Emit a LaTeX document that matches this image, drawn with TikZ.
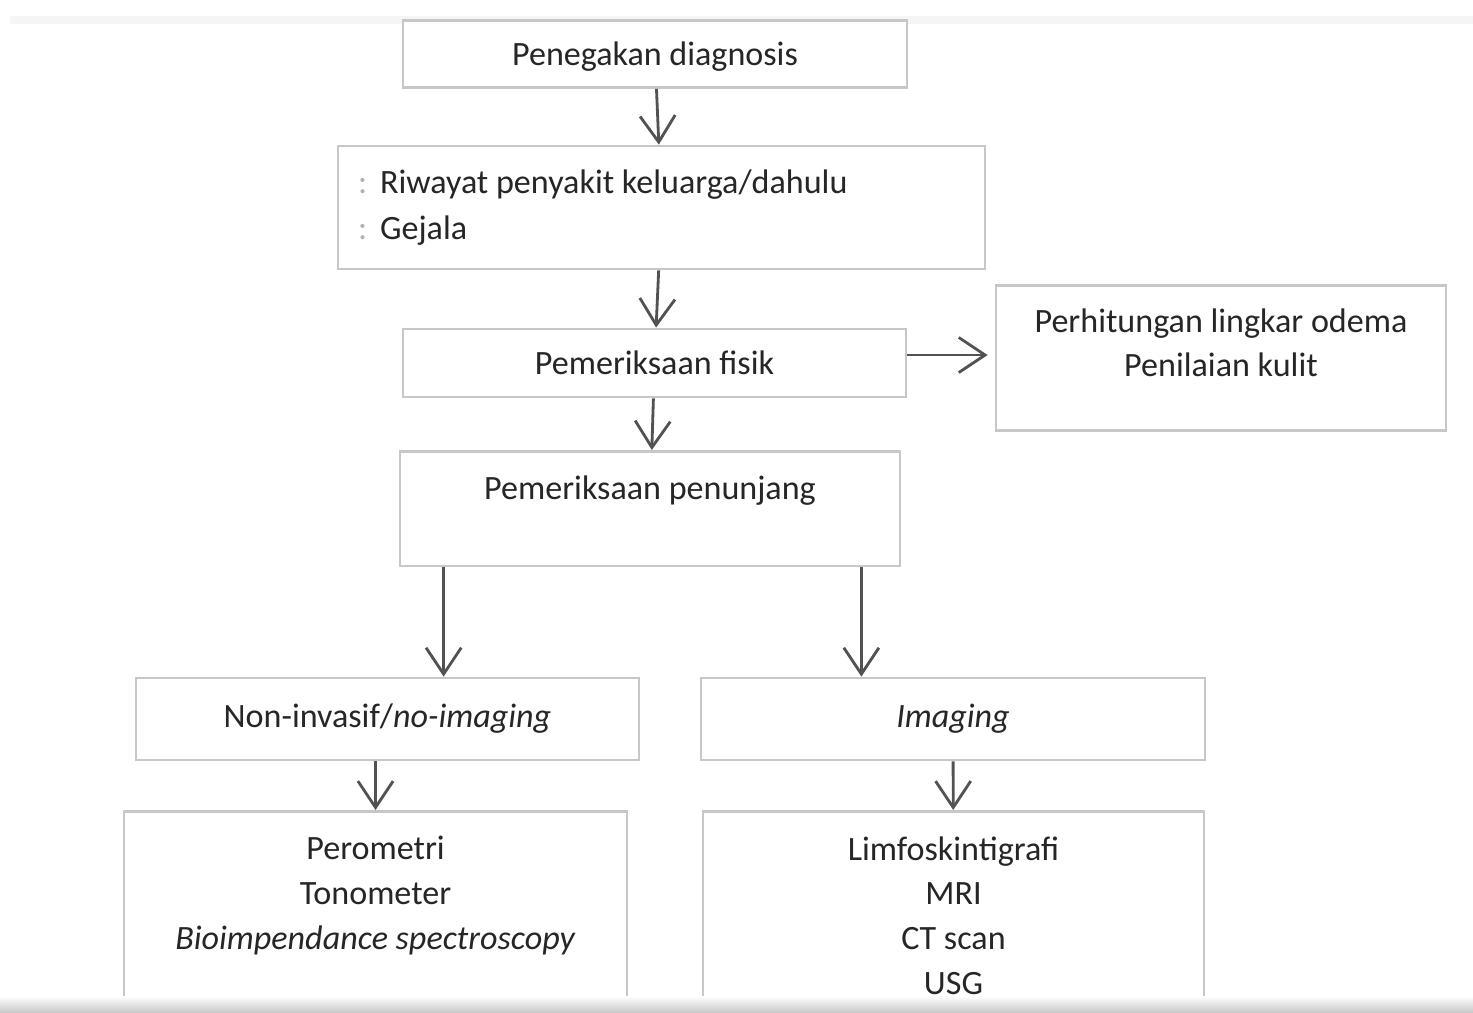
\documentclass[tikz,border=0pt]{standalone}
\usepackage{fontspec}
\setmainfont{Carlito}
\usetikzlibrary{arrows.meta, positioning}

\newcommand{\bul}{\makebox[0.44cm][l]{\color{black!30}:}}
\newcommand{\pad}[1]{\rule[-#1]{0pt}{#1}}

\begin{document}
\begin{tikzpicture}[x=0.02cm, y=-0.02cm,
    box/.style={draw=black!22, line width=1.6pt, fill=white, text=black!85,
      font=\fontsize{19.4}{25.5}\selectfont, align=center},
    arr/.style={draw=black!68, line width=1.6pt,
      -{Straight Barb[length=15pt, width=20pt, line width=1.6pt]}}]
        % Frame
        \clip (0,0) rectangle (1473,1013);
        \fill[white] (0,0) rectangle (1473,1013);
        \fill[black!4] (10,16) rectangle (1473,24);
        % Nodes
        \node[box, minimum width=10.08cm, minimum height=1.34cm, text depth=0pt] (diag) at (655,54) {Penegakan diagnosis};
        \node[box, minimum width=12.94cm, minimum height=2.46cm, inner xsep=0.4cm, text width=12.14cm, align=flush left,
              font=\fontsize{19.4}{26.6}\selectfont] (riwayat) at (661.5,207.5) {\bul Riwayat penyakit keluarga/dahulu\\\bul Gejala};
        \node[box, minimum width=10.06cm, minimum height=1.36cm] (fisik) at (654.5,363) {Pemeriksaan fisik};
        \node[box, anchor=north, minimum width=9cm, inner ysep=0.46cm] (perhit) at (1221,284) {Perhitungan lingkar odema\\Penilaian kulit\pad{0.62cm}};
        \node[box, anchor=north, minimum width=10cm, inner ysep=0.48cm] (penunjang) at (650,450) {Pemeriksaan penunjang\pad{0.86cm}};
        \node[box, minimum width=10.06cm, minimum height=1.64cm] (noninv) at (387.5,719) {Non-invasif/\textit{no-imaging}};
        \node[box, minimum width=10.08cm, minimum height=1.64cm] (imaging) at (953,719) {\textit{Imaging}};
        \node[box, anchor=north, minimum width=10.06cm, inner ysep=0.5cm] (perom) at (375.5,810) {Perometri\\Tonometer\\\textit{Bioimpendance spectroscopy}\pad{1.2cm}};
        \node[box, anchor=north, minimum width=10.02cm, inner ysep=0.5cm] (limfo) at (953.5,810) {Limfoskintigrafi\\MRI\\CT scan\\USG\pad{0.3cm}};
        % Arrows
        \draw[arr] (diag) -- (riwayat);
        \draw[arr] (riwayat) -- (fisik);
        \draw[arr] (fisik) -- (penunjang);
        \draw[arr, shorten >=4pt] ([yshift=0.16cm]fisik.east) -- ([yshift=0.16cm]fisik.east -| perhit.west);
        \coordinate (kiri) at ([xshift=0.9cm]penunjang.south west);
        \coordinate (kanan) at ([xshift=-0.8cm]penunjang.south east);
        \draw[arr] (kiri) -- (kiri |- noninv.north);
        \draw[arr] (kanan) -- (kanan |- imaging.north);
        \draw[arr] (perom.north |- noninv.south) -- (perom.north);
        \draw[arr] (imaging) -- (limfo);
        % Bottom shadow
        \shade[top color=white, bottom color=black!22] (0,996) rectangle (1473,1013);
\end{tikzpicture}
\end{document}
